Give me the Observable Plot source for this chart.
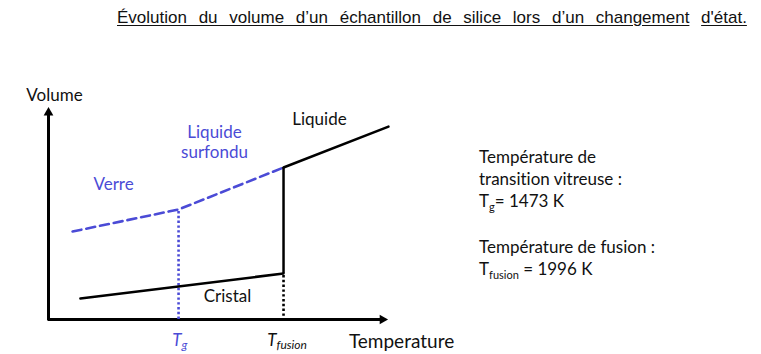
<!DOCTYPE html>
<html>
<head>
<meta charset="utf-8">
<script src="https://cdn.jsdelivr.net/npm/d3@7"></script>
<script src="https://cdn.jsdelivr.net/npm/@observablehq/plot@0.6"></script>
<style>
  html, body { margin: 0; padding: 0; background: #fff; }
  #wrap { position: relative; width: 761px; height: 354px; overflow: hidden; }
  #title { position: absolute; left: 117px; top: 8px; font-family: "Liberation Sans", Arial, sans-serif; font-size: 17px; color: #111; white-space: nowrap; word-spacing: 7px; }
  #title span { text-decoration: underline; text-underline-offset: 2px; }
  #notes { position: absolute; left: 479px; top: 146px; font-family: Lato, "Open Sans", sans-serif; font-size: 17px; color: #111; line-height: 22px; font-variant-ligatures: none; }
  #notes sub { font-size: 11px; vertical-align: -4px; line-height: 0; }
  #chart { position: absolute; left: 0; top: 0; }
  #chart text { font-variant-ligatures: none; }
</style>
</head>
<body>
<div id="wrap">
  <div id="chart"></div>
  <div id="title"><span>Évolution du volume d’un échantillon de silice lors d’un changement</span> <span>d'état.</span></div>
  <div id="notes">
    <div>Température de</div>
    <div>transition vitreuse :</div>
    <div>T<sub>g</sub>= 1473 K</div>
    <div style="height:24px"></div>
    <div>Température de fusion :</div>
    <div>T<sub>fusion</sub> = 1996 K</div>
  </div>
</div>
<script>
// Characteristic temperatures (K)
const Tg = 1473;
const Tfusion = 1996;

// Curves (temperature K, volume in arbitrary units)
const glassT = [945, 1473, 1996];
const glassV = [41.5, 51.9, 71.7];
const liquidT = [1996, 2519];
const liquidV = [71.7, 91.0];
const crystalT = [984, 1996];
const crystalV = [9.9, 21.7];

// Axes (origin and arrow ends)
const axisT = [825, 2489];
const axisV = [0, 97.6];

// Annotation labels
const labelText = ["Volume", "Liquide", "Liquide", "surfondu", "Verre", "Cristal", "Temperature"];
const labelT = [855, 2175, 1652, 1652, 1149, 1717, 2584];
const labelV = [105.7, 94.3, 88.2, 78.8, 63.7, 10.8, -10.4];
const labelColor = ["#111", "#111", "#4b4bd6", "#4b4bd6", "#4b4bd6", "#111", "#111"];
const labelSize = [17, 17, 17, 17, 17, 17, 19];

const blue = "#4b4bd6";
const pts = (T, V) => T.map((t, i) => ({T: t, V: V[i]}));
const labels = labelText.map((s, i) => ({s, T: labelT[i], V: labelV[i], c: labelColor[i], f: labelSize[i]}));

const font = "Lato, 'Open Sans', sans-serif";

const chart = Plot.plot({
  width: 761,
  height: 354,
  x: {domain: [825, 2519], range: [48, 388], axis: null},
  y: {domain: [0, 100], range: [319, 107], axis: null},
  style: {fontFamily: font, background: "transparent"},
  marks: [
    // axes
    Plot.ruleX([axisT[0]], {y1: axisV[0] - 0.7, y2: axisV[1], stroke: "#000", strokeWidth: 3}),
    Plot.ruleY([axisV[0]], {x1: axisT[0], x2: axisT[1], stroke: "#000", strokeWidth: 3}),
    Plot.dot([{T: axisT[0], V: axisV[1]}], {x: "T", y: "V", symbol: "triangle", r: 3.6, fill: "#000", stroke: null}),
    Plot.dot([{T: axisT[1], V: axisV[0]}], {x: "T", y: "V", symbol: "triangle", r: 3.6, fill: "#000", stroke: null, rotate: 90}),
    // dotted guides
    Plot.ruleX([Tg], {y1: 0, y2: glassV[1], stroke: blue, strokeWidth: 2.6, strokeDasharray: "2.4,2.4"}),
    Plot.ruleX([Tfusion], {y1: 1.5, y2: crystalV[1] - 1, stroke: "#000", strokeWidth: 2.6, strokeDasharray: "2.4,2.4"}),
    // curves
    Plot.line(pts(glassT, glassV), {x: "T", y: "V", stroke: blue, strokeWidth: 2.6, strokeDasharray: "9,5"}),
    Plot.line(pts(liquidT, liquidV), {x: "T", y: "V", stroke: "#000", strokeWidth: 2.5}),
    Plot.line(pts(crystalT, crystalV), {x: "T", y: "V", stroke: "#000", strokeWidth: 2.5}),
    Plot.ruleX([Tfusion], {y1: crystalV[1], y2: liquidV[0], stroke: "#000", strokeWidth: 2.5}),
    // labels
    Plot.text(labels, {x: "T", y: "V", text: "s", fill: "c", fontSize: "f"}),
    // tick labels (T with subscript)
    Plot.text([Tg], {x: d => d, y: -9.9, text: () => "T", fill: blue, fontSize: 17, fontStyle: "italic", textAnchor: "end", dx: 3}),
    Plot.text([Tg], {x: d => d, y: -9.9, text: () => "g", fill: blue, fontSize: 12, fontStyle: "italic", textAnchor: "start", dx: 3, dy: 5}),
    Plot.text([Tfusion], {x: d => d, y: -9.9, text: () => "T", fill: "#111", fontSize: 17, fontStyle: "italic", textAnchor: "end", dx: -7}),
    Plot.text([Tfusion], {x: d => d, y: -9.9, text: () => "fusion", fill: "#111", fontSize: 12, fontStyle: "italic", textAnchor: "start", dx: -7, dy: 5})
  ]
});
document.getElementById("chart").appendChild(chart);
</script>
</body>
</html>
